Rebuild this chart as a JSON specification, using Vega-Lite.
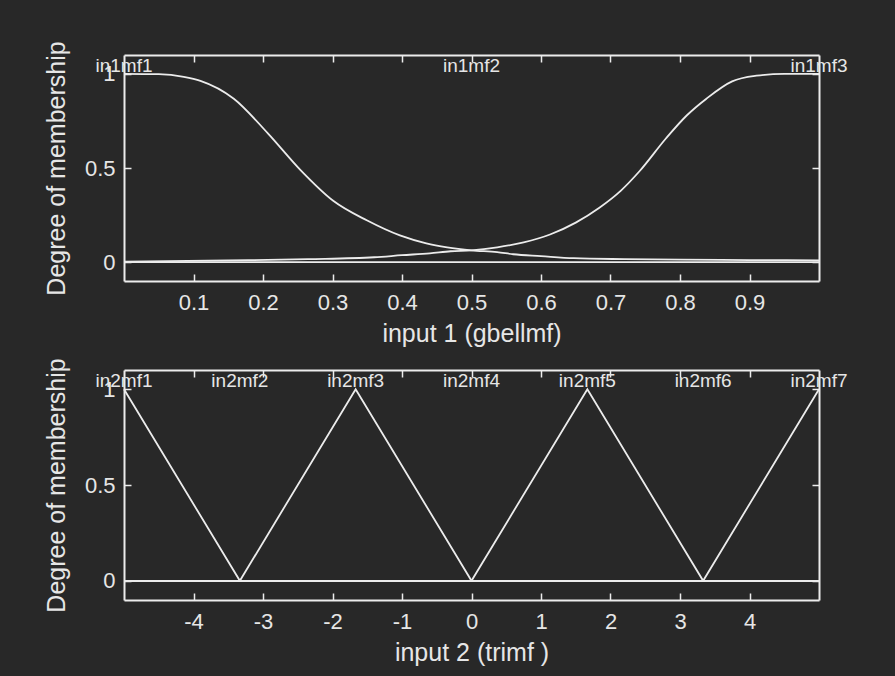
{
  "$schema": "https://vega.github.io/schema/vega-lite/v6.json",
  "background": "#282828",
  "padding": {"left": 44, "top": 40, "right": 75, "bottom": 28},
  "spacing": 11,
  "config": {
    "view": {"stroke": null},
    "font": "Liberation Sans",
    "axis": {
      "grid": false,
      "labelFont": "Liberation Sans",
      "labelFontSize": 22,
      "labelColor": "#e6e6e6",
      "labelExpr": "'' + datum.value",
      "titleFont": "Liberation Sans",
      "titleFontSize": 25,
      "titleFontWeight": "normal",
      "titleColor": "#e6e6e6",
      "domainColor": "#ececec",
      "domainWidth": 2,
      "tickColor": "#ececec",
      "tickWidth": 1.5,
      "tickSize": -7
    },
    "axisX": {"labelPadding": 18, "titlePadding": 8},
    "axisY": {"labelPadding": 16, "titlePadding": 15}
  },
  "datasets": {
    "input1": [
      {"mf": "in1mf1", "x": 0.0, "mu": 1.0},
      {"mf": "in1mf1", "x": 0.05, "mu": 0.998},
      {"mf": "in1mf1", "x": 0.086, "mu": 0.984},
      {"mf": "in1mf1", "x": 0.11, "mu": 0.963},
      {"mf": "in1mf1", "x": 0.158, "mu": 0.868},
      {"mf": "in1mf1", "x": 0.207, "mu": 0.684},
      {"mf": "in1mf1", "x": 0.254, "mu": 0.489},
      {"mf": "in1mf1", "x": 0.301, "mu": 0.326},
      {"mf": "in1mf1", "x": 0.35, "mu": 0.221},
      {"mf": "in1mf1", "x": 0.397, "mu": 0.142},
      {"mf": "in1mf1", "x": 0.435, "mu": 0.1},
      {"mf": "in1mf1", "x": 0.465, "mu": 0.079},
      {"mf": "in1mf1", "x": 0.5, "mu": 0.063},
      {"mf": "in1mf1", "x": 0.537, "mu": 0.053},
      {"mf": "in1mf1", "x": 0.56, "mu": 0.042},
      {"mf": "in1mf1", "x": 0.6, "mu": 0.032},
      {"mf": "in1mf1", "x": 0.647, "mu": 0.021},
      {"mf": "in1mf1", "x": 0.72, "mu": 0.016},
      {"mf": "in1mf1", "x": 0.8, "mu": 0.013},
      {"mf": "in1mf1", "x": 0.9, "mu": 0.011},
      {"mf": "in1mf1", "x": 1.0, "mu": 0.01},
      {"mf": "in1mf2", "x": 0.0, "mu": 0.0},
      {"mf": "in1mf2", "x": 1.0, "mu": 0.0},
      {"mf": "in1mf3", "x": 0.0, "mu": 0.003},
      {"mf": "in1mf3", "x": 0.063, "mu": 0.005},
      {"mf": "in1mf3", "x": 0.15, "mu": 0.009},
      {"mf": "in1mf3", "x": 0.265, "mu": 0.016},
      {"mf": "in1mf3", "x": 0.36, "mu": 0.026},
      {"mf": "in1mf3", "x": 0.4, "mu": 0.037},
      {"mf": "in1mf3", "x": 0.44, "mu": 0.047},
      {"mf": "in1mf3", "x": 0.47, "mu": 0.058},
      {"mf": "in1mf3", "x": 0.5, "mu": 0.063},
      {"mf": "in1mf3", "x": 0.537, "mu": 0.079},
      {"mf": "in1mf3", "x": 0.575, "mu": 0.105},
      {"mf": "in1mf3", "x": 0.613, "mu": 0.147},
      {"mf": "in1mf3", "x": 0.65, "mu": 0.21},
      {"mf": "in1mf3", "x": 0.684, "mu": 0.289},
      {"mf": "in1mf3", "x": 0.715, "mu": 0.38},
      {"mf": "in1mf3", "x": 0.742, "mu": 0.484},
      {"mf": "in1mf3", "x": 0.78, "mu": 0.658},
      {"mf": "in1mf3", "x": 0.81, "mu": 0.78},
      {"mf": "in1mf3", "x": 0.838, "mu": 0.868},
      {"mf": "in1mf3", "x": 0.875, "mu": 0.96},
      {"mf": "in1mf3", "x": 0.91, "mu": 0.99},
      {"mf": "in1mf3", "x": 0.95, "mu": 1.0},
      {"mf": "in1mf3", "x": 1.0, "mu": 1.0}
    ],
    "input1Names": [
      {"mf": "in1mf1", "x": 0.0, "mu": 1},
      {"mf": "in1mf2", "x": 0.5, "mu": 1},
      {"mf": "in1mf3", "x": 1.0, "mu": 1}
    ],
    "input2": [
      {"mf": "in2mf1", "x": -5, "mu": 1},
      {"mf": "in2mf1", "x": -3.333, "mu": 0},
      {"mf": "in2mf1", "x": 5, "mu": 0},
      {"mf": "in2mf2", "x": -5, "mu": 0},
      {"mf": "in2mf2", "x": 5, "mu": 0},
      {"mf": "in2mf3", "x": -5, "mu": 0},
      {"mf": "in2mf3", "x": -3.333, "mu": 0},
      {"mf": "in2mf3", "x": -1.667, "mu": 1},
      {"mf": "in2mf3", "x": 0, "mu": 0},
      {"mf": "in2mf3", "x": 5, "mu": 0},
      {"mf": "in2mf4", "x": -5, "mu": 0},
      {"mf": "in2mf4", "x": 5, "mu": 0},
      {"mf": "in2mf5", "x": -5, "mu": 0},
      {"mf": "in2mf5", "x": 0, "mu": 0},
      {"mf": "in2mf5", "x": 1.667, "mu": 1},
      {"mf": "in2mf5", "x": 3.333, "mu": 0},
      {"mf": "in2mf5", "x": 5, "mu": 0},
      {"mf": "in2mf6", "x": -5, "mu": 0},
      {"mf": "in2mf6", "x": 5, "mu": 0},
      {"mf": "in2mf7", "x": -5, "mu": 0},
      {"mf": "in2mf7", "x": 3.333, "mu": 0},
      {"mf": "in2mf7", "x": 5, "mu": 1}
    ],
    "input2Names": [
      {"mf": "in2mf1", "x": -5, "mu": 1},
      {"mf": "in2mf2", "x": -3.333, "mu": 1},
      {"mf": "in2mf3", "x": -1.667, "mu": 1},
      {"mf": "in2mf4", "x": 0, "mu": 1},
      {"mf": "in2mf5", "x": 1.667, "mu": 1},
      {"mf": "in2mf6", "x": 3.333, "mu": 1},
      {"mf": "in2mf7", "x": 5, "mu": 1}
    ]
  },
  "vconcat": [
    {
      "width": 695,
      "height": 226,
      "resolve": {"axis": {"x": "independent", "y": "independent"}},
      "layer": [
        {
          "data": {"name": "input1"},
          "mark": {"type": "line", "color": "#ececec", "strokeWidth": 1.8, "interpolate": "monotone"},
          "encoding": {
            "x": {"field": "x", "type": "quantitative", "scale": {"domain": [0, 1], "nice": false, "zero": false},
                  "axis": {"orient": "bottom", "values": [0.1, 0.2, 0.3, 0.4, 0.5, 0.6, 0.7, 0.8, 0.9], "title": "input 1 (gbellmf)"}},
            "y": {"field": "mu", "type": "quantitative", "scale": {"domain": [-0.1, 1.1], "nice": false, "zero": false},
                  "axis": {"orient": "left", "values": [0, 0.5, 1], "title": "Degree of membership"}},
            "detail": {"field": "mf"}
          }
        },
        {
          "data": {"name": "input1Names"},
          "mark": {"type": "text", "color": "#e6e6e6", "font": "Liberation Sans", "fontSize": 19, "align": "center", "baseline": "alphabetic", "dy": -2},
          "encoding": {
            "x": {"field": "x", "type": "quantitative", "scale": {"domain": [0, 1], "nice": false, "zero": false},
                  "axis": {"orient": "top", "values": [0.1, 0.2, 0.3, 0.4, 0.5, 0.6, 0.7, 0.8, 0.9], "labels": false, "title": null}},
            "y": {"field": "mu", "type": "quantitative", "scale": {"domain": [-0.1, 1.1], "nice": false, "zero": false},
                  "axis": {"orient": "right", "values": [0, 0.5, 1], "labels": false, "title": null}},
            "text": {"field": "mf"}
          }
        }
      ]
    },
    {
      "width": 695,
      "height": 230,
      "resolve": {"axis": {"x": "independent", "y": "independent"}},
      "layer": [
        {
          "data": {"name": "input2"},
          "mark": {"type": "line", "color": "#ececec", "strokeWidth": 1.8},
          "encoding": {
            "x": {"field": "x", "type": "quantitative", "scale": {"domain": [-5, 5], "nice": false, "zero": false},
                  "axis": {"orient": "bottom", "values": [-4, -3, -2, -1, 0, 1, 2, 3, 4], "title": "input 2 (trimf  )"}},
            "y": {"field": "mu", "type": "quantitative", "scale": {"domain": [-0.1, 1.1], "nice": false, "zero": false},
                  "axis": {"orient": "left", "values": [0, 0.5, 1], "title": "Degree of membership"}},
            "detail": {"field": "mf"}
          }
        },
        {
          "data": {"name": "input2Names"},
          "mark": {"type": "text", "color": "#e6e6e6", "font": "Liberation Sans", "fontSize": 19, "align": "center", "baseline": "alphabetic", "dy": -2},
          "encoding": {
            "x": {"field": "x", "type": "quantitative", "scale": {"domain": [-5, 5], "nice": false, "zero": false},
                  "axis": {"orient": "top", "values": [-4, -3, -2, -1, 0, 1, 2, 3, 4], "labels": false, "title": null}},
            "y": {"field": "mu", "type": "quantitative", "scale": {"domain": [-0.1, 1.1], "nice": false, "zero": false},
                  "axis": {"orient": "right", "values": [0, 0.5, 1], "labels": false, "title": null}},
            "text": {"field": "mf"}
          }
        }
      ]
    }
  ]
}
